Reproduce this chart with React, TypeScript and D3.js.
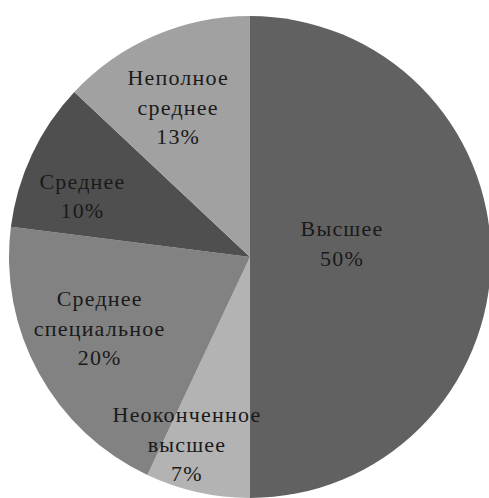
import React from 'react';
import * as d3 from 'd3';

const width = 489;
const height = 498;

const categories = [
  'Высшее',
  'Неоконченное высшее',
  'Среднее специальное',
  'Среднее',
  'Неполное среднее',
];
const shares = [50, 7, 20, 10, 13];
// label text lines per slice
const labelLines = [
  ['Высшее'],
  ['Неоконченное', 'высшее'],
  ['Среднее', 'специальное'],
  ['Среднее'],
  ['Неполное', 'среднее'],
];

const colors = ['#616161', '#b3b3b3', '#828282', '#4f4f4f', '#a1a1a1'];
// label distance from the centre (share of radius) and angle nudge (degrees)
const labelPos = [0.386, 0.82, 0.69, 0.74, 0.69];
const labelShift = [-8.6, 6, 3.5, -5.2, -2.2];

const cx = 250;
const cy = 257;
const radius = 241;
const lineHeight = 29.5;

type Row = { name: string; value: number; i: number };

export default function App() {
  const rows: Row[] = categories.map((name, i) => ({ name, value: shares[i], i }));
  const pie = d3
    .pie<Row>()
    .value((d) => d.value)
    .sort(null);
  const arcs = pie(rows);
  const arc = d3.arc<d3.PieArcDatum<Row>>().innerRadius(0).outerRadius(radius);

  return (
    <svg
      width={width}
      height={height}
      style={{ position: 'absolute', left: 0, top: 0 }}
    >
      <rect width={width} height={height} fill="#fff" />
      <g transform={`translate(${cx},${cy})`}>
        {arcs.map((a) => (
          <path key={a.data.name} d={arc(a) || ''} fill={colors[a.data.i]} />
        ))}
        {arcs.map((a) => {
          const r = radius * labelPos[a.data.i];
          const ang = (a.startAngle + a.endAngle) / 2 + (labelShift[a.data.i] * Math.PI) / 180;
          const lx = r * Math.sin(ang);
          const ly = -r * Math.cos(ang);
          const lines = [...labelLines[a.data.i], `${a.data.value}%`];
          const top = ly - ((lines.length - 1) * lineHeight) / 2;
          return (
            <text
              key={a.data.name}
              textAnchor="middle"
              fontFamily="Liberation Serif"
              fontSize={22}
              letterSpacing={1.2}
              fill="#1a1a1a"
            >
              {lines.map((t, k) => (
                <tspan key={k} x={lx} y={top + k * lineHeight} dy="0.35em">
                  {t}
                </tspan>
              ))}
            </text>
          );
        })}
      </g>
    </svg>
  );
}
